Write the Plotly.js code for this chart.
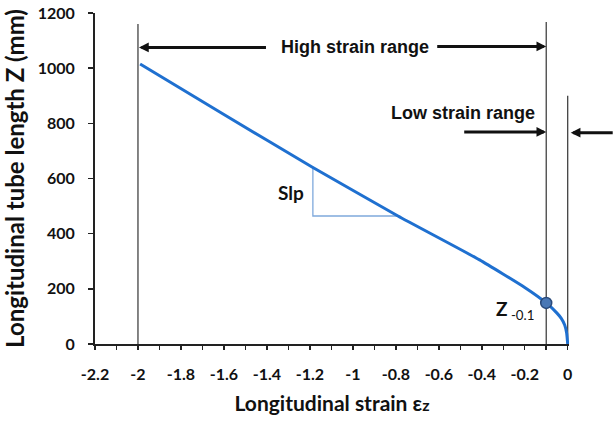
<!DOCTYPE html>
<html>
<head>
<meta charset="utf-8">
<script src="https://cdn.plot.ly/plotly-3.0.1.min.js"></script>
<style>html,body{margin:0;padding:0;background:#fff;}#chart{width:613px;height:425px;}</style>
</head>
<body>
<div id="chart"></div>
<script>
// Data
const strain = [-1.99, -1.6, -1.19, -0.79, -0.41, -0.2, -0.1, -0.05, -0.03, -0.014, -0.005, 0];
const lengthZ = [1015, 832, 642, 464, 305, 205, 149, 112, 93, 69, 40, 0];
const markStrain = [-0.1];
const markZ = [149];
const slopeX = [-1.186, -1.186, -0.79];
const slopeZ = [640, 464, 464];
const boundStrain = [-2, -0.1, 0];
const boundTopZ = [1160, 1167, 900];
const xTickVals = [-2.2, -2, -1.8, -1.6, -1.4, -1.2, -1, -0.8, -0.6, -0.4, -0.2, 0];
const xTickText = ['-2.2', '-2', '-1.8', '-1.6', '-1.4', '-1.2', '-1', '-0.8', '-0.6', '-0.4', '-0.2', '0'];
const yTickVals = [0, 200, 400, 600, 800, 1000, 1200];
const rangeLevelHigh = 1075;
const rangeLevelLow = 769;

const bx = [], by = [];
boundStrain.forEach((s, i) => { bx.push(s, s, null); by.push(0, boundTopZ[i], null); });

const tickFont = {family: 'Lato, "Open Sans", sans-serif', size: 16, color: '#111', weight: 'bold'};
const narrowFont = {family: '"Liberation Sans Narrow", "Arial Narrow", "Liberation Sans", sans-serif', size: 18, color: '#111', weight: 'bold'};

const traces = [
  {x: bx, y: by, mode: 'lines', line: {color: '#333', width: 1.2}, hoverinfo: 'skip', showlegend: false},
  {x: slopeX, y: slopeZ, mode: 'lines', line: {color: '#7fa9dc', width: 1.3}, hoverinfo: 'skip', showlegend: false},
  {x: strain, y: lengthZ, mode: 'lines', line: {color: '#1f70d0', width: 3, shape: 'spline', smoothing: 0.4}, showlegend: false},
  {x: markStrain, y: markZ, mode: 'markers', marker: {size: 11, color: '#4a78b5', line: {color: '#2a4a7a', width: 1.5}}, showlegend: false}
];

const arrowBase = {showarrow: true, text: ' ', arrowhead: 2, arrowsize: 0.65, arrowwidth: 3, arrowcolor: '#111', axref: 'pixel', ayref: 'pixel', ay: 0, xref: 'x', yref: 'y'};

const layout = {
  width: 613, height: 425,
  margin: {l: 95, r: 44, t: 13, b: 81},
  paper_bgcolor: '#fff', plot_bgcolor: '#fff',
  xaxis: {
    range: [-2.2, 0.006], tickmode: 'array', tickvals: xTickVals, ticktext: xTickText,
    showline: true, linewidth: 2, linecolor: '#222', showgrid: false, zeroline: false,
    ticks: 'outside', ticklen: 4, tickwidth: 1.5, tickcolor: '#222', ticklabelstandoff: 11,
    minor: {tick0: -2.2, dtick: 0.1, ticks: 'outside', ticklen: 4, tickwidth: 1.5, tickcolor: '#222', showgrid: false},
    tickfont: tickFont,
    title: {text: 'Longitudinal strain ε<span style="font-size:16px">z</span>', font: {family: 'Lato, "Open Sans", sans-serif', size: 21, color: '#111', weight: 'bold'}, standoff: 14}
  },
  yaxis: {
    range: [0, 1200], tickmode: 'array', tickvals: yTickVals,
    showline: true, linewidth: 2, linecolor: '#222', showgrid: false, zeroline: false,
    ticks: 'outside', ticklen: 5, tickwidth: 1.5, tickcolor: '#222', ticklabelstandoff: 10,
    tickfont: tickFont,
    title: {text: 'Longitudinal tube length Z (mm)', font: {family: 'Lato, "Open Sans", sans-serif', size: 24, color: '#111', weight: 'bold'}, standoff: 9}
  },
  annotations: [
    Object.assign({}, arrowBase, {x: boundStrain[0], y: rangeLevelHigh, ax: 130, xshift: 1}),
    Object.assign({}, arrowBase, {x: boundStrain[1], y: rangeLevelHigh + 4, ax: -112}),
    Object.assign({}, arrowBase, {x: boundStrain[1], y: rangeLevelLow, ax: -85}),
    Object.assign({}, arrowBase, {x: boundStrain[2], y: rangeLevelLow - 3, ax: 45, xshift: 3}),
    {x: -0.99, y: rangeLevelHigh, xref: 'x', yref: 'y', showarrow: false, text: 'High strain range', font: narrowFont},
    {x: -0.488, y: 838, xref: 'x', yref: 'y', showarrow: false, text: 'Low strain range', font: narrowFont},
    {x: -1.29, y: 551, xref: 'x', yref: 'y', showarrow: false, text: 'Slp', font: {family: 'Lato, "Open Sans", sans-serif', size: 19, color: '#111', weight: 'bold'}},
    {x: -0.245, y: 122, xref: 'x', yref: 'y', showarrow: false, text: 'Z<sub><span style="font-weight:normal"> -0.1</span></sub>', font: {family: 'Lato, "Open Sans", sans-serif', size: 19, color: '#111', weight: 'bold'}}
  ]
};

Plotly.newPlot('chart', traces, layout, {displayModeBar: false, staticPlot: true});
</script>
</body>
</html>
